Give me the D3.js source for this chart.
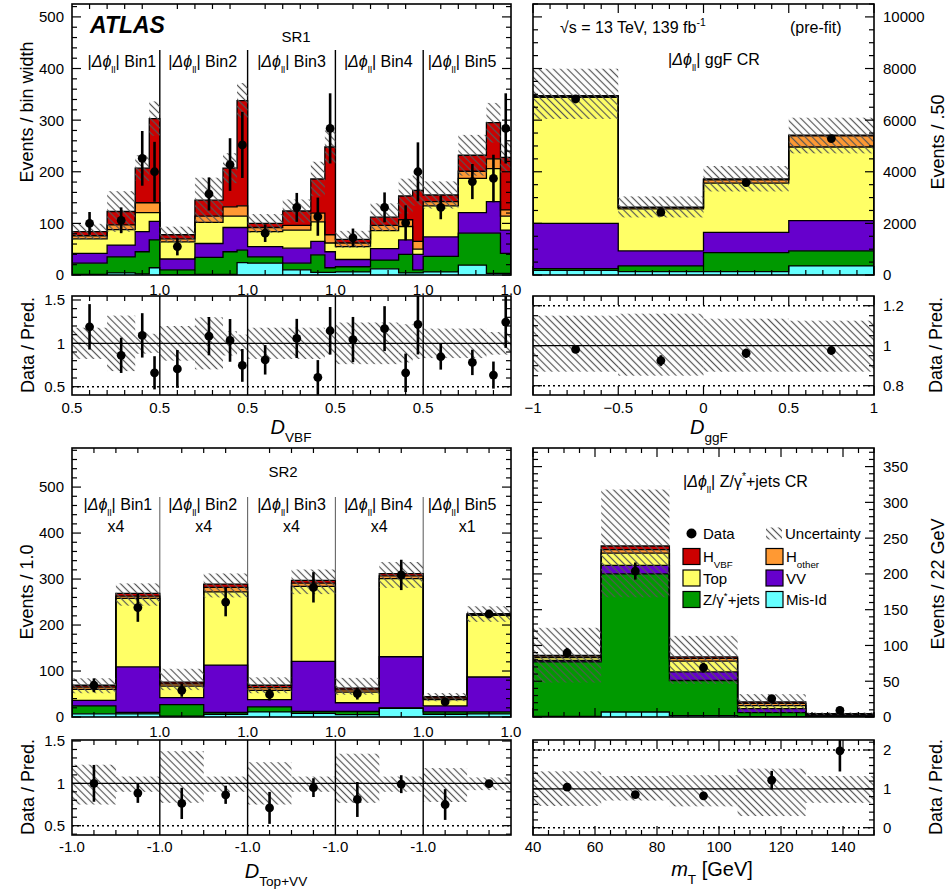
<!DOCTYPE html>
<html><head><meta charset="utf-8">
<script src="https://cdn.jsdelivr.net/npm/d3@7"></script>
<style>body{margin:0;background:#fff}</style>
</head><body>
<script>
// ---------------- DATA ----------------
const phiBins = ["Bin1","Bin2","Bin3","Bin4","Bin5"];
const sr2Scale = ["x4","x4","x4","x4","x1"];
const dvbfEdges = [0.5, 0.7, 0.86, 0.94, 1.0];
const dtopEdges = [-1.0, 0.0, 1.0];
const dggfEdges = [-1, -0.5, 0, 0.5, 1];
const mtEdges = [40, 62, 84, 106, 128, 150];

// SR1 (5 |dphi| bins x 4 D_VBF bins), events / bin width
const sr1MisId  = [1,4,2,14, 0,1,1,24, 23,10,5,5, 6,12,4,4, 6,19,3,3];
const sr1Zjets  = [22,31,43,54, 10,33,44,24, 12,13,34,9, 10,17,36,6, 30,62,78,39];
const sr1VV     = [19,23,39,36, 21,27,47,44, 20,29,26,31, 14,22,28,30, 38,40,61,45];
const sr1Top    = [28,30,37,17, 33,41,22,22, 29,35,38,17, 25,35,26,10, 60,66,64,27];
const sr1Hother = [6,9,19,19, 6,12,18,20, 8,9,17,16, 7,10,13,15, 8,14,19,12];
const sr1Hvbf   = [8,26,67,163, 8,31,75,204, 8,28,66,170, 7,16,46,99, 13,31,70,102];
const sr1Data   = [100,106,226,200, 55,157,214,252, 81,131,113,284, 72,131,101,200, 131,181,187,284];
const sr1DataErr= [22,25,53,58, 17,32,51,64, 17,28,37,68, 18,29,34,57, 23,34,46,68];
const sr1UncLo  = [0.82,0.68,0.88,0.89, 0.8,0.7,0.86,0.9, 0.82,0.82,0.82,0.87, 0.76,0.76,0.78,0.82, 0.83,0.83,0.87,0.87];
const sr1UncHi  = [1.18,1.32,1.12,1.11, 1.2,1.3,1.14,1.1, 1.18,1.18,1.18,1.13, 1.24,1.24,1.22,1.18, 1.17,1.17,1.13,1.13];

// ggF CR
const ggfMisId  = [180,130,130,350];
const ggfZjets  = [70,220,740,585];
const ggfVV     = [1750,585,780,1169];
const ggfTop    = [4880,1625,1910,2856];
const ggfHother = [40,50,130,430];
const ggfHvbf   = [30,15,30,27];
const ggfData   = [6820,2430,3580,5287];
const ggfDataErr= [110,70,85,100];
const ggfUncLo  = [0.87,0.85,0.87,0.87];
const ggfUncHi  = [1.15,1.16,1.135,1.125];

// SR2 (5 |dphi| bins x 2 D_Top+VV bins)
const sr2MisId  = [7,7, 2,6, 11,8, 5,19, 6,7];
const sr2Zjets  = [17,3, 25,4, 11,4, 7,1, 5,4];
const sr2VV     = [12,99, 15,103, 16,109, 19,111, 13,76];
const sr2Top    = [24,149, 25,159, 20,163, 23,170, 14,134];
const sr2Hother = [5,5, 5,10, 6,7, 5,6, 3,2];
const sr2Hvbf   = [4,6, 4,7, 5,6, 4,5, 3,2];
const sr2Data   = [69,238, 58,250, 49,282, 51,309, 33,224];
const sr2DataErr= [15,31, 14,31, 13,33, 13,33, 8,9];
const sr2UncLo  = [0.75,0.9, 0.77,0.9, 0.75,0.9, 0.77,0.9, 0.78,0.92];
const sr2UncHi  = [1.22,1.08, 1.38,1.08, 1.25,1.08, 1.35,1.08, 1.18,1.07];

// Z/gamma*+jets CR (mT)
const zMisId  = [1,7,2,0.5,0.2];
const zZjets  = [76,193,49,5.5,1.3];
const zVV     = [2,12,12,5.7,1];
const zTop    = [4,17,15,4.3,1.3];
const zHother = [2,5,4,3,0.5];
const zHvbf   = [1,5,2,2,0.4];
const zData   = [89.6,204,69,25.7,9.3];
const zDataErr= [7,12,7,5,2.5];
const zUncLo  = [0.56,0.7,0.55,0.3,0.64];
const zUncHi  = [1.45,1.33,1.35,1.52,1.33];

// ---------------- STYLE ----------------
const FONT = '"Liberation Sans", Arial, Helvetica, sans-serif';
const COL = {mis:"#66ffff", z:"#009900", vv:"#6600cc", top:"#ffff66", hoth:"#ff9933", hvbf:"#cc0000"};

const svg = d3.select("body").append("svg").attr("width",948).attr("height",890)
  .style("font-family",FONT);
const defs = svg.append("defs");
const pat = defs.append("pattern").attr("id","hatch").attr("patternUnits","userSpaceOnUse")
  .attr("width",5).attr("height",5).attr("patternTransform","rotate(-45)");
pat.append("line").attr("x1",2.5).attr("y1",-1).attr("x2",2.5).attr("y2",6)
  .attr("stroke","#555").attr("stroke-width",1.2);

function clipG(id, xr, yr){
  defs.append("clipPath").attr("id",id).append("rect")
    .attr("x",xr[0]).attr("y",yr[0]).attr("width",xr[1]-xr[0]).attr("height",yr[1]-yr[0]);
  return svg.append("g").attr("clip-path",`url(#${id})`);
}

function richText(g, x, y, parts, size, anchor, extra){
  const t = g.append("text").attr("x",x).attr("y",y).attr("font-size",size)
    .attr("text-anchor",anchor||"start").attr("font-family",FONT);
  if (extra) extra(t);
  let shift = 0;
  parts.forEach(p=>{
    const s = t.append("tspan").text(p.t);
    const target = p.sub ? 0.38*size : (p.sup ? -0.42*size : 0);
    if (target-shift !== 0) s.attr("dy", target-shift);
    shift = target;
    if (p.sub||p.sup) s.attr("font-size", size*(p.ss||0.65));
    if (p.i) s.attr("font-style","italic");
    if (p.b) s.attr("font-weight","bold");
  });
  return t;
}
function dphiParts(suffix){
  return [{t:"|"},{t:"\u0394\u03D5",i:true},{t:"ll",sub:true,ss:0.6},{t:"| "+suffix}];
}

function stackComps(mis,z,vv,top,hoth,hvbf){
  return [{v:mis,c:COL.mis},{v:z,c:COL.z},{v:vv,c:COL.vv},{v:top,c:COL.top},{v:hoth,c:COL.hoth},{v:hvbf,c:COL.hvbf}];
}

function drawStack(g, bins, comps, y){
  const n = bins.length; let lower = new Array(n).fill(0); const levels = [];
  comps.forEach(c=>{
    const upper = lower.map((l,i)=>l+c.v[i]);
    const pts = [];
    bins.forEach((b,i)=>{pts.push([b[0],lower[i],upper[i]]); pts.push([b[1],lower[i],upper[i]]);});
    g.append("path").attr("d", d3.area().x(d=>d[0]).y0(d=>y(d[1])).y1(d=>y(d[2]))(pts))
      .attr("fill",c.c).attr("stroke","none");
    levels.push(upper); lower = upper;
  });
  levels.forEach(up=>{
    const pts = [[bins[0][0],0]];
    bins.forEach((b,i)=>{pts.push([b[0],up[i]]); pts.push([b[1],up[i]]);});
    pts.push([bins[n-1][1],0]);
    g.append("path").attr("d", d3.line().x(d=>d[0]).y(d=>y(d[1]))(pts))
      .attr("fill","none").attr("stroke","#000").attr("stroke-width",1.3);
  });
  return lower;
}
function drawHatchMain(g, bins, tot, lo, hi, y){
  bins.forEach((b,i)=>{
    g.append("rect").attr("x",b[0]).attr("width",b[1]-b[0])
      .attr("y",y(tot[i]*hi[i])).attr("height",y(tot[i]*lo[i])-y(tot[i]*hi[i]))
      .attr("fill","url(#hatch)");
  });
}
function drawPoints(g, bins, vals, errs, y, r){
  bins.forEach((b,i)=>{
    const cx = (b[0]+b[1])/2;
    g.append("line").attr("x1",cx).attr("x2",cx).attr("y1",y(vals[i]-errs[i])).attr("y2",y(vals[i]+errs[i]))
      .attr("stroke","#000").attr("stroke-width",2.6);
    g.append("circle").attr("cx",cx).attr("cy",y(vals[i])).attr("r",r||4.4).attr("fill","#000");
  });
}
function drawRatio(g, bins, tot, data, errs, lo, hi, y){
  bins.forEach((b,i)=>{
    g.append("rect").attr("x",b[0]).attr("width",b[1]-b[0])
      .attr("y",y(hi[i])).attr("height",y(lo[i])-y(hi[i])).attr("fill","url(#hatch)");
  });
  const xr = [bins[0][0], bins[bins.length-1][1]];
  g.append("line").attr("x1",xr[0]).attr("x2",xr[1]).attr("y1",y(1)).attr("y2",y(1))
    .attr("stroke","#000").attr("stroke-width",1.3);
  drawPoints(g, bins, data.map((d,i)=>d/tot[i]), errs.map((e,i)=>e/tot[i]), y, 4.4);
}
function dotted(g, xr, y, v){
  g.append("line").attr("x1",xr[0]).attr("x2",xr[1]).attr("y1",y(v)).attr("y2",y(v))
    .attr("stroke","#000").attr("stroke-width",1.4).attr("stroke-dasharray","2,3");
}
function frame(xr, yr){
  svg.append("rect").attr("x",xr[0]).attr("y",yr[0]).attr("width",xr[1]-xr[0]).attr("height",yr[1]-yr[0])
    .attr("fill","none").attr("stroke","#000").attr("stroke-width",1.6);
}
function yTicks(xr, y, major, minor, majLen, minLen){
  const g = svg.append("g").attr("stroke","#000").attr("stroke-width",1.2);
  const dom = y.domain();
  const s = Math.ceil(dom[0]/minor-1e-9), e = Math.floor(dom[1]/minor+1e-9);
  for(let k=s;k<=e;k++){
    const v = k*minor, isMaj = Math.abs(v/major-Math.round(v/major))<1e-6;
    const L = isMaj?majLen:minLen, yy = y(v);
    g.append("line").attr("x1",xr[0]).attr("x2",xr[0]+L).attr("y1",yy).attr("y2",yy);
    g.append("line").attr("x1",xr[1]).attr("x2",xr[1]-L).attr("y1",yy).attr("y2",yy);
  }
}
function xTicks(yr, xs, lens){
  const g = svg.append("g").attr("stroke","#000").attr("stroke-width",1.2);
  xs.forEach((x,i)=>{
    g.append("line").attr("x1",x).attr("x2",x).attr("y1",yr[1]).attr("y2",yr[1]-lens[i]);
    g.append("line").attr("x1",x).attr("x2",x).attr("y1",yr[0]).attr("y2",yr[0]+lens[i]);
  });
}
function yLabels(vals, y, x, anchor, fmt){
  vals.forEach(v=>{
    svg.append("text").attr("x",x).attr("y",y(v)).attr("dy","0.36em").attr("text-anchor",anchor)
      .attr("font-size",15).text(fmt?fmt(v):v);
  });
}
function vTitle(x, yc, text, size){
  svg.append("text").attr("transform",`translate(${x},${yc}) rotate(-90)`).attr("text-anchor","middle")
    .attr("font-size",size||18).text(text);
}

// ---------------- GEOMETRY ----------------
const LX = [72,511], RX = [533,874];
const T_MAIN = [4,275], T_RAT = [296,395];
const B_MAIN = [448,717], B_RAT = [740,835];

const xSR = d3.scaleLinear().domain([0,5]).range(LX);
const xGGF = d3.scaleLinear().domain([-1,1]).range(RX);
const xMT = d3.scaleLinear().domain([40,150]).range(RX);

const ySR1 = d3.scaleLinear().domain([0,525]).range([T_MAIN[1],T_MAIN[0]]);
const ySR1r = d3.scaleLinear().domain([0.404,1.546]).range([T_RAT[1],T_RAT[0]]);
const yGGF = d3.scaleLinear().domain([0,10500]).range([T_MAIN[1],T_MAIN[0]]);
const yGGFr = d3.scaleLinear().domain([0.7535,1.2485]).range([T_RAT[1],T_RAT[0]]);
const ySR2 = d3.scaleLinear().domain([0,585]).range([B_MAIN[1],B_MAIN[0]]);
const ySR2r = d3.scaleLinear().domain([0.39,1.512]).range([B_RAT[1],B_RAT[0]]);
const yZ = d3.scaleLinear().domain([0,376]).range([B_MAIN[1],B_MAIN[0]]);
const yZr = d3.scaleLinear().domain([-0.188,2.257]).range([B_RAT[1],B_RAT[0]]);

// bins in pixel space
const sr1Bins = []; phiBins.forEach((_,k)=>{ for(let j=0;j<dvbfEdges.length-1;j++)
  sr1Bins.push([xSR(k+(dvbfEdges[j]-0.5)/0.5), xSR(k+(dvbfEdges[j+1]-0.5)/0.5)]); });
const sr2Bins = []; phiBins.forEach((_,k)=>{ for(let j=0;j<dtopEdges.length-1;j++)
  sr2Bins.push([xSR(k+(dtopEdges[j]+1)/2), xSR(k+(dtopEdges[j+1]+1)/2)]); });
const ggfBins = d3.range(dggfEdges.length-1).map(i=>[xGGF(dggfEdges[i]),xGGF(dggfEdges[i+1])]);
const zBins = d3.range(mtEdges.length-1).map(i=>[xMT(mtEdges[i]),xMT(mtEdges[i+1])]);

const segTicksSR1 = [], segLensSR1 = [];
phiBins.forEach((_,k)=>{ [0.6,0.7,0.8,0.9].forEach(d=>{segTicksSR1.push(xSR(k+(d-0.5)/0.5)); segLensSR1.push(5);}); });
const segTicksSR2 = [], segLensSR2 = [];
phiBins.forEach((_,k)=>{ [-0.5,0,0.5].forEach(d=>{segTicksSR2.push(xSR(k+(d+1)/2)); segLensSR2.push(5);}); });

// ================= SR1 main =================
{
  const g = clipG("cSR1", LX, T_MAIN);
  d3.range(1,5).forEach(k=>g.append("line").attr("x1",xSR(k)).attr("x2",xSR(k)).attr("y1",50).attr("y2",T_MAIN[1])
    .attr("stroke","#000").attr("stroke-width",1.4));
  const tot = drawStack(g, sr1Bins, stackComps(sr1MisId,sr1Zjets,sr1VV,sr1Top,sr1Hother,sr1Hvbf), ySR1);
  drawHatchMain(g, sr1Bins, tot, sr1UncLo, sr1UncHi, ySR1);
  drawPoints(g, sr1Bins, sr1Data, sr1DataErr, ySR1);
  frame(LX, T_MAIN);
  yTicks(LX, ySR1, 100, 20, 9, 5);
  xTicks(T_MAIN, segTicksSR1, segLensSR1);
  yLabels([0,100,200,300,400,500], ySR1, LX[0]-8, "end");
  vTitle(33, 112, "Events / bin width");
  svg.append("text").attr("x",90).attr("y",33).attr("font-size",23).attr("font-weight","bold")
    .attr("font-style","italic").text("ATLAS");
  svg.append("text").attr("x",296).attr("y",42).attr("text-anchor","middle").attr("font-size",15).text("SR1");
  const off = [6,-1,0,-1,-5];
  phiBins.forEach((b,k)=>richText(svg, xSR(k+0.5)+off[k], 67, dphiParts(b), 16, "middle"));
  // ratio
  const gr = clipG("cSR1r", LX, T_RAT);
  drawRatio(gr, sr1Bins, tot, sr1Data, sr1DataErr, sr1UncLo, sr1UncHi, ySR1r);
  dotted(gr, LX, ySR1r, 0.5);
  d3.range(1,5).forEach(k=>gr.append("line").attr("x1",xSR(k)).attr("x2",xSR(k)).attr("y1",T_RAT[0]).attr("y2",T_RAT[1])
    .attr("stroke","#000").attr("stroke-width",1.4));
  frame(LX, T_RAT);
  yTicks(LX, ySR1r, 0.5, 0.1, 9, 5);
  xTicks(T_RAT, segTicksSR1, segLensSR1);
  yLabels([0.5,1,1.5], ySR1r, LX[0]-7, "end");
  vTitle(34, 345, "Data / Pred.");
  phiBins.forEach((_,k)=>{
    svg.append("text").attr("x",xSR(k+1)).attr("y",295).attr("text-anchor","middle").attr("font-size",15).text("1.0");
    svg.append("text").attr("x",xSR(k)).attr("y",413).attr("text-anchor","middle").attr("font-size",15).text("0.5");
  });
  richText(svg, 291, 434, [{t:"D",i:true},{t:"VBF",sub:true,ss:0.68}], 20, "middle");
}

// ================= ggF CR =================
{
  const g = clipG("cGGF", RX, T_MAIN);
  const tot = drawStack(g, ggfBins, stackComps(ggfMisId,ggfZjets,ggfVV,ggfTop,ggfHother,ggfHvbf), yGGF);
  drawHatchMain(g, ggfBins, tot, ggfUncLo, ggfUncHi, yGGF);
  drawPoints(g, ggfBins, ggfData, ggfDataErr, yGGF);
  frame(RX, T_MAIN);
  yTicks(RX, yGGF, 2000, 500, 9, 5);
  const xt = d3.range(-10,11).map(v=>v/10);
  xTicks(T_MAIN, xt.map(xGGF), xt.map(v=>Math.abs(v*2-Math.round(v*2))<1e-6?9:5));
  yLabels([0,2000,4000,6000,8000,10000], yGGF, RX[1]+9, "start");
  vTitle(944, 142, "Events / .50");
  richText(svg, 560, 33, [{t:"\u221As = 13 TeV, 139 fb"},{t:"-1",sup:true}], 16, "start");
  svg.append("text").attr("x",790).attr("y",33).attr("font-size",16).text("(pre-fit)");
  richText(svg, 714, 65, dphiParts("ggF CR"), 16, "middle");
  // ratio
  const gr = clipG("cGGFr", RX, T_RAT);
  drawRatio(gr, ggfBins, tot, ggfData, ggfDataErr, ggfUncLo, ggfUncHi, yGGFr);
  dotted(gr, RX, yGGFr, 0.8); dotted(gr, RX, yGGFr, 1.2);
  frame(RX, T_RAT);
  yTicks(RX, yGGFr, 0.2, 0.05, 9, 5);
  xTicks(T_RAT, xt.map(xGGF), xt.map(v=>Math.abs(v*2-Math.round(v*2))<1e-6?9:5));
  yLabels([0.8,1,1.2], yGGFr, RX[1]+9, "start");
  vTitle(942, 345, "Data / Pred.");
  [-1,-0.5,0,0.5,1].forEach(v=>svg.append("text").attr("x",xGGF(v)).attr("y",413).attr("text-anchor","middle")
    .attr("font-size",15).text(v<0?"\u2212"+Math.abs(v):String(v)));
  richText(svg, 709, 434, [{t:"D",i:true},{t:"ggF",sub:true,ss:0.68}], 20, "middle");
}

// ================= SR2 =================
{
  const g = clipG("cSR2", LX, B_MAIN);
  d3.range(1,5).forEach(k=>g.append("line").attr("x1",xSR(k)).attr("x2",xSR(k)).attr("y1",497).attr("y2",B_MAIN[1])
    .attr("stroke","#666").attr("stroke-width",1.1));
  const tot = drawStack(g, sr2Bins, stackComps(sr2MisId,sr2Zjets,sr2VV,sr2Top,sr2Hother,sr2Hvbf), ySR2);
  drawHatchMain(g, sr2Bins, tot, sr2UncLo, sr2UncHi, ySR2);
  drawPoints(g, sr2Bins, sr2Data, sr2DataErr, ySR2);
  frame(LX, B_MAIN);
  yTicks(LX, ySR2, 100, 20, 9, 5);
  xTicks(B_MAIN, segTicksSR2, segLensSR2);
  yLabels([0,100,200,300,400,500], ySR2, LX[0]-8, "end");
  vTitle(33, 592, "Events / 1.0");
  svg.append("text").attr("x",283).attr("y",477).attr("text-anchor","middle").attr("font-size",15).text("SR2");
  const off = [2,-1,0,-1,-5];
  phiBins.forEach((b,k)=>{
    richText(svg, xSR(k+0.5)+off[k], 510, dphiParts(b), 16, "middle");
    svg.append("text").attr("x",xSR(k+0.5)).attr("y",532).attr("text-anchor","middle").attr("font-size",16).text(sr2Scale[k]);
  });
  // ratio
  const gr = clipG("cSR2r", LX, B_RAT);
  drawRatio(gr, sr2Bins, tot, sr2Data, sr2DataErr, sr2UncLo, sr2UncHi, ySR2r);
  dotted(gr, LX, ySR2r, 0.5);
  d3.range(1,5).forEach(k=>gr.append("line").attr("x1",xSR(k)).attr("x2",xSR(k)).attr("y1",B_RAT[0]).attr("y2",B_RAT[1])
    .attr("stroke","#000").attr("stroke-width",1.4));
  frame(LX, B_RAT);
  yTicks(LX, ySR2r, 0.5, 0.1, 9, 5);
  xTicks(B_RAT, segTicksSR2, segLensSR2);
  yLabels([0.5,1,1.5], ySR2r, LX[0]-7, "end");
  vTitle(34, 787, "Data / Pred.");
  phiBins.forEach((_,k)=>{
    svg.append("text").attr("x",xSR(k+1)).attr("y",737).attr("text-anchor","middle").attr("font-size",15).text("1.0");
    svg.append("text").attr("x",xSR(k)).attr("y",852).attr("text-anchor","middle").attr("font-size",15).text("-1.0");
  });
  richText(svg, 276, 878, [{t:"D",i:true},{t:"Top+VV",sub:true,ss:0.68}], 20, "middle");
}

// ================= Z+jets CR =================
{
  const g = clipG("cZ", RX, B_MAIN);
  const tot = drawStack(g, zBins, stackComps(zMisId,zZjets,zVV,zTop,zHother,zHvbf), yZ);
  drawHatchMain(g, zBins, tot, zUncLo, zUncHi, yZ);
  drawPoints(g, zBins, zData, zDataErr, yZ);
  frame(RX, B_MAIN);
  yTicks(RX, yZ, 50, 10, 9, 5);
  const xt = d3.range(40,151,5);
  xTicks(B_MAIN, xt.map(xMT), xt.map(v=>v%20===0?9:5));
  yLabels([0,50,100,150,200,250,300,350], yZ, RX[1]+9, "start");
  vTitle(944, 584, "Events / 22 GeV");
  richText(svg, 683, 487, [{t:"|"},{t:"\u0394\u03D5",i:true},{t:"ll",sub:true,ss:0.6},{t:"| Z/\u03B3"},{t:"*",sup:true},{t:"+jets CR"}], 16, "start");
  // legend
  const lg = svg.append("g");
  const rows = [533.5, 556.5, 578, 599.5];
  lg.append("circle").attr("cx",691.5).attr("cy",rows[0]).attr("r",5).attr("fill","#000");
  lg.append("text").attr("x",703).attr("y",rows[0]+5.5).attr("font-size",15).text("Data");
  lg.append("rect").attr("x",766).attr("y",rows[0]-6).attr("width",16).attr("height",12).attr("fill","url(#hatch)");
  lg.append("text").attr("x",785).attr("y",rows[0]+5.5).attr("font-size",15).text("Uncertainty");
  const items = [
    [1,0,COL.hvbf,[{t:"H"},{t:"VBF",sub:true}]],
    [1,1,COL.hoth,[{t:"H"},{t:"other",sub:true}]],
    [2,0,COL.top,[{t:"Top"}]],
    [2,1,COL.vv,[{t:"VV"}]],
    [3,0,COL.z,[{t:"Z/\u03B3"},{t:"*",sup:true},{t:"+jets"}]],
    [3,1,COL.mis,[{t:"Mis-Id"}]]
  ];
  items.forEach(([r,c,col,parts])=>{
    const x0 = c===0?683:766;
    lg.append("rect").attr("x",x0).attr("y",rows[r]-8).attr("width",17).attr("height",16)
      .attr("fill",col).attr("stroke","#000").attr("stroke-width",1.2);
    richText(lg, x0+20, rows[r]+5.5, parts, 15, "start");
  });
  // ratio
  const gr = clipG("cZr", RX, B_RAT);
  drawRatio(gr, zBins, tot, zData, zDataErr, zUncLo, zUncHi, yZr);
  dotted(gr, RX, yZr, 0); dotted(gr, RX, yZr, 2);
  frame(RX, B_RAT);
  yTicks(RX, yZr, 1, 0.2, 9, 5);
  xTicks(B_RAT, xt.map(xMT), xt.map(v=>v%20===0?9:5));
  yLabels([0,1,2], yZr, RX[1]+9, "start");
  vTitle(942, 787, "Data / Pred.");
  [40,60,80,100,120,140].forEach(v=>svg.append("text").attr("x",xMT(v)).attr("y",852).attr("text-anchor","middle")
    .attr("font-size",15).text(v));
  richText(svg, 712, 876, [{t:"m",i:true},{t:"T",sub:true,ss:0.68},{t:" [GeV]"}], 20, "middle");
}
</script>
</body></html>
